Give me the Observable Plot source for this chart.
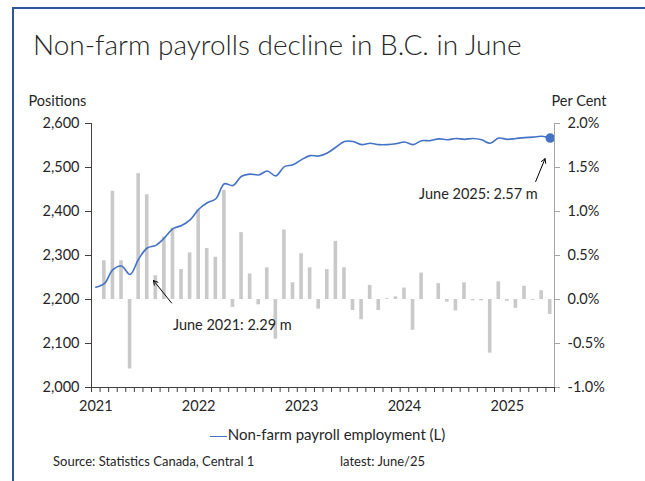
<!DOCTYPE html>
<html>
<head>
<meta charset="utf-8">
<script src="https://cdn.jsdelivr.net/npm/d3@7"></script>
<script src="https://cdn.jsdelivr.net/npm/@observablehq/plot@0.6"></script>
<style>
  html, body { margin: 0; padding: 0; background: #fff; }
  #page { position: relative; width: 645px; height: 481px; overflow: hidden; font-family: Lato, "Open Sans", sans-serif; color: #262626; }
  #frame { position: absolute; left: 12px; top: 7px; right: -10px; bottom: -10px; border-left: 2px solid #2f5597; border-top: 2px solid #2f5597; }
  #title { position: absolute; left: 33px; top: 27px; font-size: 28px; font-weight: 300; color: #262626; white-space: nowrap; }
  #chart { position: absolute; left: 0; top: 0; }
  #legend { position: absolute; left: 0; width: 655px; top: 425px; text-align: center; font-size: 15px; white-space: nowrap; }
  #legend .sw { display: inline-block; width: 17px; height: 0; border-top: 1.5px solid #4472c4; vertical-align: middle; margin-right: 1px; }
  #source { position: absolute; left: 53px; top: 453px; font-size: 13px; white-space: nowrap; }
  #latest { position: absolute; left: 340px; top: 453px; font-size: 13px; white-space: nowrap; }
</style>
</head>
<body>
<div id="page">
  <div id="frame"></div>
  <div id="title">Non-farm payrolls decline in B.C. in June</div>
  <div id="chart"></div>
  <div id="legend"><span class="sw"></span>Non-farm payroll employment (L)</div>
  <div id="source">Source: Statistics Canada, Central 1</div>
  <div id="latest">latest: June/25</div>
</div>
<script>
// Monthly categories, Jan 2021 – Jun 2025
const months = [
  "2021-01","2021-02","2021-03","2021-04","2021-05","2021-06","2021-07","2021-08","2021-09","2021-10","2021-11","2021-12",
  "2022-01","2022-02","2022-03","2022-04","2022-05","2022-06","2022-07","2022-08","2022-09","2022-10","2022-11","2022-12",
  "2023-01","2023-02","2023-03","2023-04","2023-05","2023-06","2023-07","2023-08","2023-09","2023-10","2023-11","2023-12",
  "2024-01","2024-02","2024-03","2024-04","2024-05","2024-06","2024-07","2024-08","2024-09","2024-10","2024-11","2024-12",
  "2025-01","2025-02","2025-03","2025-04","2025-05","2025-06"
];
// Non-farm payroll employment, thousands (left axis)
const employment = [
  2228,2236,2268,2276,2257,2292,2317,2323,2340,2361,2368,2381,
  2405,2420,2429,2463,2459,2480,2485,2483,2492,2481,2502,2506,
  2518,2527,2526,2533,2546,2559,2559,2552,2555,2552,2552,2554,
  2558,2552,2561,2561,2565,2563,2566,2564,2566,2563,2555,2567,
  2564,2566,2568,2569,2571,2567
];
// Monthly % change (right axis)
const pctChange = [
  0,0.44,1.23,0.44,-0.79,1.43,1.19,0.27,0.71,0.81,0.34,0.53,
  1.02,0.58,0.48,1.24,-0.09,0.76,0.29,-0.06,0.36,-0.45,0.79,0.19,
  0.52,0.36,-0.11,0.34,0.66,0.36,-0.125,-0.23,0.16,-0.125,0.01,0.03,
  0.13,-0.35,0.30,0,0.18,-0.03,-0.13,0.19,-0.015,-0.015,-0.61,0.20,
  -0.02,-0.10,0.15,-0.01,0.10,-0.17
];
// Axis tick labels
const leftTicks = [2000, 2100, 2200, 2300, 2400, 2500, 2600];
const rightTicks = [-1.0, -0.5, 0.0, 0.5, 1.0, 1.5, 2.0];
const yearLabels = ["2021", "2022", "2023", "2024", "2025"];
// Annotations (month index, value in thousands)
const noteLabels = ["June 2021: 2.29 m", "June 2025: 2.57 m"];
const noteTextX = [9.0, 37.7];
const noteTextY = [2141, 2439];
const arrowFromX = [8.84, 51.3];
const arrowFromY = [2192, 2468];
const arrowToX = [6.74, 52.4];
const arrowToY = [2243, 2520];

// right axis maps onto left units: 0% -> 2200, 1% -> +200
const pctToLeft = p => 2200 + p * 200;

const data = months.map((m, i) => ({ i, month: m, emp: employment[i], pct: pctChange[i] }));
const yearTicks = yearLabels.map(y => months.indexOf(y + "-01"));
const boundaries = d3.range(months.length + 1).map(k => k - 0.5);
const notes = noteLabels.map((t, k) => ({
  t, tx: noteTextX[k], ty: noteTextY[k],
  x1: arrowFromX[k], y1: arrowFromY[k], x2: arrowToX[k], y2: arrowToY[k]
}));
const last = data[data.length - 1];

const chart = Plot.plot({
  width: 645,
  height: 481,
  marginLeft: 91,
  marginRight: 91,
  marginTop: 123,
  marginBottom: 94,
  style: { fontFamily: "Lato, 'Open Sans', sans-serif", fontSize: "14.5px", color: "#262626", background: "transparent", overflow: "visible" },
  x: { type: "linear", domain: [-0.5, months.length - 0.5] },
  y: { domain: [2000, 2600] },
  marks: [
    // bars: monthly % change (right axis)
    Plot.rectY(data, {
      x1: d => d.i - 0.21, x2: d => d.i + 0.21,
      y1: 2200, y2: d => pctToLeft(d.pct),
      fill: "#c9c9c9"
    }),
    // employment line
    Plot.line(data, { x: "i", y: "emp", stroke: "#4472c4", strokeWidth: 1.6, curve: "catmull-rom" }),
    Plot.dot([last], { x: "i", y: "emp", r: 4, fill: "#4472c4", stroke: "#4472c4" }),
    // axes
    Plot.axisY({ anchor: "left", ticks: leftTicks, tickFormat: d3.format(","), tickSize: 6, tickPadding: 6, label: null, stroke: "#404040" }),
    Plot.axisY({ anchor: "right", ticks: rightTicks.map(pctToLeft), tickFormat: v => ((v - 2200) / 200).toFixed(1) + "%", tickSize: 5, tickPadding: 8, label: null, stroke: "#a6a6a6" }),
    Plot.axisX({ ticks: boundaries, tickFormat: () => "", tickSize: 5, label: null, stroke: "#404040" }),
    Plot.axisX({ ticks: yearTicks, tickFormat: i => months[i].slice(0, 4), tickSize: 0, tickPadding: 13, label: null }),
    Plot.ruleX([-0.5], { stroke: "#404040" }),
    Plot.ruleX([months.length - 0.5], { stroke: "#a6a6a6" }),
    Plot.ruleY([2000], { stroke: "#404040" }),
    // axis titles
    Plot.text(["Positions"], { frameAnchor: "top-left", dx: -63, dy: -28, text: d => d, textAnchor: "start", fontSize: 14.5 }),
    Plot.text(["Per Cent"], { frameAnchor: "top-right", dx: -3, dy: -28, text: d => d, textAnchor: "start", fontSize: 14.5 }),
    // annotations
    Plot.arrow(notes, { x1: "x1", y1: "y1", x2: "x2", y2: "y2", stroke: "#000", strokeWidth: 1, headLength: 7 }),
    Plot.text(notes, { x: "tx", y: "ty", text: "t", textAnchor: "start", fontSize: 14.5, fill: "#262626" })
  ]
});
document.getElementById("chart").appendChild(chart);
</script>
</body>
</html>
